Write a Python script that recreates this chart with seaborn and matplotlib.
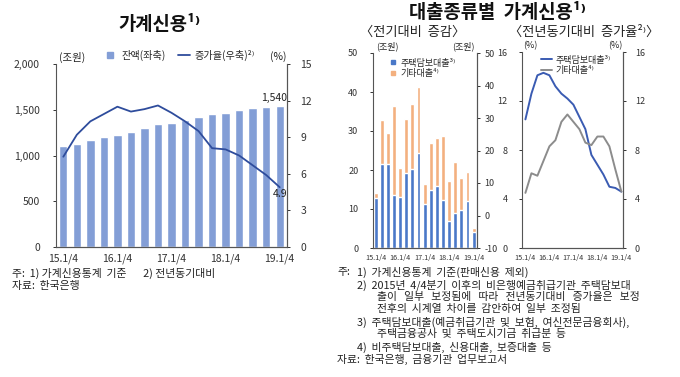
import numpy as np
import pandas as pd
import seaborn as sns
import matplotlib.pyplot as plt
from matplotlib.lines import Line2D

# quarters 15.1/4 ~ 19.1/4
quarters = ["15.1/4", "15.2/4", "15.3/4", "15.4/4", "16.1/4", "16.2/4", "16.3/4", "16.4/4",
            "17.1/4", "17.2/4", "17.3/4", "17.4/4", "18.1/4", "18.2/4", "18.3/4", "18.4/4", "19.1/4"]
tick_labels = ["15.1/4", "16.1/4", "17.1/4", "18.1/4", "19.1/4"]

# 가계신용 잔액(조원), 증가율(%)
balance = [1099, 1131, 1166, 1203, 1224, 1257, 1296, 1343, 1359, 1388, 1419, 1451,
           1468, 1493, 1514, 1535, 1540]
growth = [7.4, 9.2, 10.3, 10.9, 11.5, 11.1, 11.3, 11.6, 11.0, 10.3, 9.5, 8.1,
          8.0, 7.5, 6.7, 5.9, 4.9]

# 전기대비 증감(조원)
mort_chg = [12.8, 21.6, 21.6, 13.6, 13.2, 19.3, 20.3, 24.4, 11.3, 14.9, 15.9, 12.2,
            6.8, 9.1, 9.8, 12.1, 4.2]
other_chg = [1.4, 11.2, 7.9, 22.9, 7.3, 13.9, 16.6, 16.8, 5.1, 11.9, 12.4, 16.5,
             10.3, 12.9, 8.2, 7.3, 0.9]

# 전년동기대비 증가율(%)
mort_yoy = [10.5, 12.6, 14.1, 14.3, 14.1, 13.2, 12.6, 12.2, 11.7, 10.7, 9.7, 7.6,
            6.8, 6.0, 5.0, 4.9, 4.6]
other_yoy = [4.5, 6.1, 5.9, 7.1, 8.3, 8.8, 10.3, 10.9, 10.3, 9.7, 8.6, 8.4,
             9.1, 9.1, 8.3, 6.4, 4.6]

df = pd.DataFrame({"q": quarters, "balance": balance, "growth": growth,
                   "mort": mort_chg, "other": other_chg,
                   "mort_yoy": mort_yoy, "other_yoy": other_yoy})
df["i"] = np.arange(len(df))
df["total"] = df["mort"] + df["other"]

sns.set_theme(style="white")
plt.rcParams["font.family"] = ["Noto Sans CJK KR", "DejaVu Sans"]
plt.rcParams["axes.unicode_minus"] = False

W, H = 680, 377
fig = plt.figure(figsize=(6.8, 3.77), dpi=100)


def box(l, t, r, b):
    return [l / W, 1 - b / H, (r - l) / W, (b - t) / H]


def style(ax, fs=7.5):
    for s in ["left", "right", "bottom"]:
        ax.spines[s].set_color("#555555")
        ax.spines[s].set_linewidth(0.8)
    ax.spines["top"].set_visible(False)
    ax.tick_params(axis="both", labelsize=fs, colors="#333333", length=2.5, width=0.7,
                   direction="out", pad=3)
    ax.set_xlabel("")
    ax.set_ylabel("")


ink = "#222222"

# ---------------- 가계신용 ----------------
ax1 = fig.add_axes(box(56, 64, 287, 247))
sns.barplot(data=df, x="q", y="balance", color="#839ED6", saturation=1, width=0.62, ax=ax1)
ax1.set_xlim(-0.54, 16.54)
ax1.set_ylim(0, 2000)
ax1.set_yticks([0, 500, 1000, 1500, 2000])
ax1.set_yticklabels(["0", "500", "1,000", "1,500", "2,000"])
ax1.set_xticks([0, 4, 8, 12, 16])
ax1.set_xticklabels(tick_labels)
style(ax1, 7.5)
ax1.tick_params(axis="y", pad=9)
ax1.tick_params(axis="x", length=0, pad=5)

ax1r = ax1.twinx()
sns.lineplot(data=df, x="i", y="growth", color="#2E4C9C", lw=1.3, ax=ax1r)
ax1r.set_ylim(0, 15)
ax1r.set_yticks([0, 3, 6, 9, 12, 15])
style(ax1r, 7.5)
ax1r.spines["left"].set_visible(False)
ax1r.tick_params(axis="y", pad=7)

ax1.annotate("1,540", (16, balance[-1]), xytext=(-4, 6), textcoords="offset points",
             ha="center", va="center", fontsize=7.5, color=ink)
ax1r.annotate("4.9", (16, growth[-1]), xytext=(0, -5), textcoords="offset points",
              ha="center", va="center", fontsize=7.5, color=ink)

fig.text(72 / W, 1 - 57 / H, "(조원)", ha="center", va="center", fontsize=7.5, color=ink)
fig.text(278 / W, 1 - 57 / H, "(%)", ha="center", va="center", fontsize=7.5, color=ink)
fig.text(160 / W, 1 - 24 / H, "가계신용¹⁾", ha="center", va="center",
         fontsize=13.5, fontweight="bold", color="#111111")

h1 = [Line2D([], [], marker="s", ls="", color="#839ED6", markersize=5),
      Line2D([], [], color="#2E4C9C", lw=1.3)]
ax1.legend(h1, ["잔액(좌축)", "증가율(우축)²⁾"], ncol=2, frameon=False,
           loc="center left", bbox_to_anchor=(99 / W, 1 - 55 / H), bbox_transform=fig.transFigure,
           fontsize=7.3, handlelength=1.2, handletextpad=0.5, columnspacing=1.2, borderpad=0)

# ---------------- 전기대비 증감 ----------------
ax2 = fig.add_axes(box(373, 53, 477, 248))
sns.barplot(data=df, x="q", y="total", color="#F3B07F", saturation=1, width=0.65, ax=ax2)
sns.barplot(data=df, x="q", y="mort", color="#4A78C8", saturation=1, width=0.65, ax=ax2)
ax2.set_xlim(-0.43, 16.55)
ax2.set_ylim(0, 50)
ax2.set_yticks(range(0, 51, 10))
ax2.set_xticks([0, 4, 8, 12, 16])
ax2.set_xticklabels(tick_labels)
style(ax2, 6.5)
ax2.tick_params(axis="x", labelsize=5.2, length=0, pad=4)
ax2.tick_params(axis="y", pad=8)

ax2r = ax2.twinx()
ax2r.set_ylim(-10, 50)
ax2r.set_yticks(range(-10, 51, 10))
style(ax2r, 6.5)
ax2r.spines["left"].set_visible(False)
ax2r.tick_params(axis="y", pad=3)

fig.text(387 / W, 1 - 46 / H, "(조원)", ha="center", va="center", fontsize=6.5, color=ink)
fig.text(463 / W, 1 - 46 / H, "(조원)", ha="center", va="center", fontsize=6.5, color=ink)
h2 = [Line2D([], [], marker="s", ls="", color="#4A78C8", markersize=3.5),
      Line2D([], [], marker="s", ls="", color="#F3B07F", markersize=3.5)]
ax2.legend(h2, ["주택담보대출³⁾", "기타대출⁴⁾"], frameon=False,
           loc="upper left", bbox_to_anchor=(385 / W, 1 - 54 / H), bbox_transform=fig.transFigure,
           fontsize=6.5, handlelength=0.7, handletextpad=0.5, labelspacing=0.15, borderpad=0)

# ---------------- 전년동기대비 증가율 ----------------
ax3 = fig.add_axes(box(522, 52, 623, 248))
sns.lineplot(data=df, x="i", y="mort_yoy", color="#3A5BB2", lw=1.4, ax=ax3)
sns.lineplot(data=df, x="i", y="other_yoy", color="#8C8C8C", lw=1.4, ax=ax3)
ax3.set_xlim(-0.57, 16.27)
ax3.set_ylim(0, 16)
ax3.set_yticks([0, 4, 8, 12, 16])
ax3.set_xticks([0, 4, 8, 12, 16])
ax3.set_xticklabels(tick_labels)
ax3.set_xticks(range(17), minor=True)
style(ax3, 6.5)
ax3.tick_params(axis="x", which="both", labelsize=5.2, length=2, direction="in", pad=4)
ax3.tick_params(axis="y", pad=8)

ax3r = ax3.twinx()
ax3r.set_ylim(0, 16)
ax3r.set_yticks([0, 4, 8, 12, 16])
style(ax3r, 6.5)
ax3r.spines["left"].set_visible(False)
ax3r.tick_params(axis="y", pad=6)

fig.text(530 / W, 1 - 46 / H, "(%)", ha="center", va="center", fontsize=6.5, color=ink)
fig.text(615 / W, 1 - 46 / H, "(%)", ha="center", va="center", fontsize=6.5, color=ink)
h3 = [Line2D([], [], color="#3A5BB2", lw=1.4), Line2D([], [], color="#8C8C8C", lw=1.4)]
ax3.legend(h3, ["주택담보대출³⁾", "기타대출⁴⁾"], frameon=False,
           loc="upper left", bbox_to_anchor=(536 / W, 1 - 51 / H), bbox_transform=fig.transFigure,
           fontsize=6.5, handlelength=1.3, handletextpad=0.4, labelspacing=0.15, borderpad=0)

fig.text(498 / W, 1 - 13 / H, "대출종류별  가계신용¹⁾", ha="center", va="center",
         fontsize=13.5, fontweight="bold", color="#111111")
fig.text(413 / W, 1 - 32 / H, "〈전기대비  증감〉", ha="center", va="center", fontsize=9.5, color=ink)
fig.text(584 / W, 1 - 32 / H, "〈전년동기대비  증가율²⁾〉", ha="center", va="center",
         fontsize=9.5, color=ink)

# ---------------- 주석 ----------------
fs = 7.8
fig.text(12 / W, 1 - 273 / H, "주:  1) 가계신용통계  기준       2) 전년동기대비", ha="left", va="center",
         fontsize=fs, color=ink)
fig.text(12 / W, 1 - 286 / H, "자료:  한국은행", ha="left", va="center", fontsize=fs, color=ink)

notes = [
    (337, 272, "주:"),
    (357, 272, "1)  가계신용통계  기준(판매신용  제외)"),
    (357, 285, "2)  2015년  4/4분기  이후의  비은행예금취급기관  주택담보대"),
    (377, 297, "출이   일부   보정됨에   따라   전년동기대비   증가율은   보정"),
    (377, 309, "전후의  시계열  차이를  감안하여  일부  조정됨"),
    (357, 322, "3)  주택담보대출(예금취급기관  및  보험,  여신전문금융회사),"),
    (377, 334, "주택금융공사  및  주택도시기금  취급분  등"),
    (357, 347, "4)  비주택담보대출,  신용대출,  보증대출  등"),
    (337, 359, "자료:  한국은행,  금융기관  업무보고서"),
]
for x, y, t in notes:
    fig.text(x / W, 1 - y / H, t, ha="left", va="center", fontsize=fs, color=ink)

fig.savefig("out.png", dpi=100)
